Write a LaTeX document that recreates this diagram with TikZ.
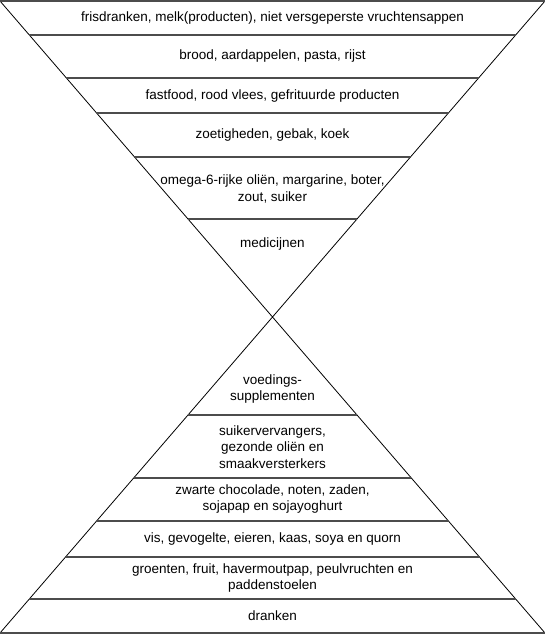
\documentclass[tikz,border=0pt]{standalone}
\usepackage{fontspec}
\setmainfont{Liberation Sans}
\usetikzlibrary{calc}

\tikzset{
  layer/.style={font=\fontsize{13.5}{16.5}\selectfont, align=center, inner sep=0pt},
  band/.style={draw=black!70, line width=1.1pt},
  edge/.style={draw=black, line width=0.8pt},
}

\begin{document}
\begin{tikzpicture}[x=1pt, y=-1pt]
\useasboundingbox (0,0) rectangle (545,634);

% --- Hourglass outline ---
\coordinate (tl) at (0,1);
\coordinate (tr) at (545,1);
\coordinate (bl) at (0,633);
\coordinate (br) at (545,633);
\coordinate (apex) at (272.5,317);
\draw[edge] (tl) -- (apex) -- (tr);
\draw[edge] (bl) -- (apex) -- (br);
\draw[band] (tl) -- (tr);
\draw[band] (bl) -- (br);

% --- Band separators ---
\foreach \y in {35, 78, 113, 157, 219} {
  \pgfmathsetmacro{\hw}{(317-\y)/316*272.5}
  \draw[band] (272.5-\hw,\y) -- (272.5+\hw,\y);
}
\foreach \y in {415, 478, 521, 557, 599} {
  \pgfmathsetmacro{\hw}{(\y-317)/316*272.5}
  \draw[band] (272.5-\hw,\y) -- (272.5+\hw,\y);
}

% --- Upper (inverted) pyramid ---
\node[layer] (fris) at (272.5,18) {frisdranken, melk(producten), niet versgeperste vruchtensappen};
\node[layer] (brood) at (272.5,56.5) {brood, aardappelen, pasta, rijst};
\node[layer] (fast) at (272.5,96) {fastfood, rood vlees, gefrituurde producten};
\node[layer] (zoet) at (272.5,135) {zoetigheden, gebak, koek};
\node[layer] (omega) at (272.5,189) {omega-6-rijke oliën, margarine, boter,\\zout, suiker};
\node[layer] (medi) at (272.5,244) {medicijnen};

% --- Lower pyramid ---
\node[layer] (suppl) at (272.5,389) {voedings-\\supplementen};
\node[layer] (suiker) at (272.5,447) {suikervervangers,\\gezonde oliën en\\smaakversterkers};
\node[layer] (choco) at (272.5,499) {zwarte chocolade, noten, zaden,\\sojapap en sojayoghurt};
\node[layer] (vis) at (272.5,539) {vis, gevogelte, eieren, kaas, soya en quorn};
\node[layer] (groen) at (272.5,578) {groenten, fruit, havermoutpap, peulvruchten en\\paddenstoelen};
\node[layer] (drank) at (272.5,616) {dranken};

\end{tikzpicture}
\end{document}
